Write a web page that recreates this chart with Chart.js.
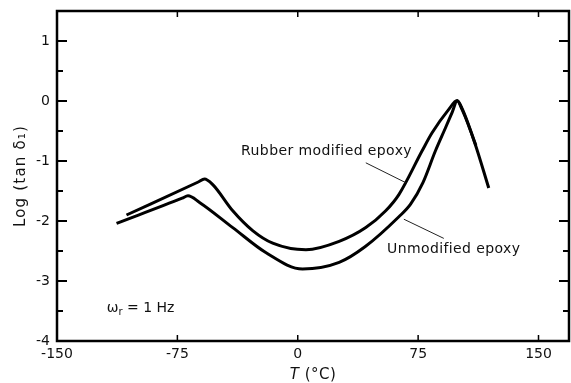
<!DOCTYPE html>
<html><head><meta charset="utf-8">
<script src="https://cdn.jsdelivr.net/npm/chart.js@4"></script>
<style>html,body{margin:0;padding:0;background:#fff}#wrap{width:571px;height:383px;position:relative}</style>
</head><body><div id="wrap"><canvas id="c"></canvas></div>
<script>
// Rubber modified epoxy (upper curve)
const rubberT   = [-106.7, -62.0, -58.1, -53.1, -40.5, -28.1, -15.6, 5.1, 25.8, 42.4, 54.8, 63.0, 77.5, 83.7, 94.1, 99.3, 102.5, 111.0];
const rubberLog = [-1.90, -1.35, -1.30, -1.39, -1.83, -2.16, -2.37, -2.48, -2.34, -2.11, -1.83, -1.56, -0.83, -0.53, -0.14, 0.01, -0.13, -0.74];
// Unmodified epoxy (lower curve)
const unmodT   = [-112.9, -72.0, -68.4, -61.2, -40.5, -19.7, 3.0, 25.8, 41.9, 63.0, 70.3, 78.0, 85.8, 92.0, 96.2, 99.3, 102.5, 110.2, 119.0];
const unmodLog = [-2.04, -1.62, -1.58, -1.69, -2.11, -2.53, -2.80, -2.69, -2.43, -1.93, -1.72, -1.36, -0.83, -0.45, -0.19, 0.0, -0.15, -0.69, -1.45];
// axis ticks
const xTicks = [-150, -75, 0, 75, 150];
const yTicks = [-4, -3.5, -3, -2.5, -2, -1.5, -1, -0.5, 0, 0.5, 1, 1.5];
const yLabelled = [-4, -3, -2, -1, 0, 1];

const FONT = "'DejaVu Sans', sans-serif";
const toXY = (xs, ys) => xs.map((x, i) => ({x, y: ys[i]}));

const decor = {
  id: 'decor',
  afterDatasetsDraw(chart) {
    const {ctx, chartArea: a, scales: {x, y}} = chart;
    ctx.save();
    ctx.strokeStyle = '#000';
    // inward ticks
    ctx.lineWidth = 2;
    yTicks.forEach(v => {
      if (v <= -4 || v >= 1.5) return;
      const py = y.getPixelForValue(v);
      const len = Number.isInteger(v) ? 10 : 6;
      ctx.beginPath();
      ctx.moveTo(a.left, py); ctx.lineTo(a.left + len, py);
      ctx.moveTo(a.right, py); ctx.lineTo(a.right - len, py);
      ctx.stroke();
    });
    ctx.lineWidth = 1.5;
    xTicks.forEach(v => {
      if (v <= -150) return;
      const px = x.getPixelForValue(v);
      ctx.beginPath();
      ctx.moveTo(px, a.bottom); ctx.lineTo(px, a.bottom - 6);
      ctx.moveTo(px, a.top); ctx.lineTo(px, a.top + 6);
      ctx.stroke();
    });
    // frame
    ctx.lineWidth = 2.5;
    ctx.strokeRect(a.left, a.top, a.right - a.left, a.bottom - a.top);

    // leader lines
    ctx.lineWidth = 1;
    ctx.strokeStyle = '#222';
    ctx.beginPath();
    ctx.moveTo(x.getPixelForValue(42.4), y.getPixelForValue(-1.03));
    ctx.lineTo(x.getPixelForValue(67.2), y.getPixelForValue(-1.36));
    ctx.moveTo(x.getPixelForValue(66.1), y.getPixelForValue(-1.97));
    ctx.lineTo(x.getPixelForValue(91.0), y.getPixelForValue(-2.29));
    ctx.stroke();

    // annotations
    ctx.fillStyle = '#111';
    ctx.font = '14px ' + FONT;
    ctx.textBaseline = 'middle';
    ctx.textAlign = 'left';
    ctx.letterSpacing = '0.4px';
    ctx.fillText('Rubber modified epoxy', x.getPixelForValue(-35.3), y.getPixelForValue(-0.84));
    ctx.fillText('Unmodified epoxy', x.getPixelForValue(55.6), y.getPixelForValue(-2.48));
    ctx.letterSpacing = '0px';
    // omega_r = 1 Hz
    let wx = x.getPixelForValue(-119), wy = y.getPixelForValue(-3.45);
    ctx.fillText('ω', wx, wy);
    wx += ctx.measureText('ω').width;
    ctx.font = '10px ' + FONT;
    ctx.fillText('r', wx, wy + 4);
    wx += ctx.measureText('r').width;
    ctx.font = '14px ' + FONT;
    ctx.fillText(' = 1 Hz', wx, wy);

    // axis titles
    ctx.textAlign = 'center';
    ctx.save();
    ctx.translate(21, (a.top + a.bottom) / 2);
    ctx.rotate(-Math.PI / 2);
    ctx.font = '15px ' + FONT;
    ctx.letterSpacing = '1.2px';
    ctx.fillText('Log (tan δ₁)', 0, 0);
    ctx.restore();
    ctx.letterSpacing = '0.5px';
    const cx = (a.left + a.right) / 2, cy = 375;
    ctx.font = 'italic 15px ' + FONT;
    const tW = ctx.measureText('T').width;
    ctx.font = '15px ' + FONT;
    const rW = ctx.measureText(' (°C)').width;
    const start = cx - (tW + rW) / 2;
    ctx.textAlign = 'left';
    ctx.font = 'italic 15px ' + FONT;
    ctx.fillText('T', start, cy);
    ctx.font = '15px ' + FONT;
    ctx.fillText(' (°C)', start + tW, cy);
    ctx.restore();
  }
};

new Chart(document.getElementById('c'), {
  type: 'line',
  data: {
    datasets: [
      {label: 'Rubber modified epoxy', data: toXY(rubberT, rubberLog), borderColor: '#000', borderWidth: 3, pointRadius: 0, fill: false, cubicInterpolationMode: 'monotone'},
      {label: 'Unmodified epoxy', data: toXY(unmodT, unmodLog), borderColor: '#000', borderWidth: 3, pointRadius: 0, fill: false, cubicInterpolationMode: 'monotone'}
    ]
  },
  options: {
    responsive: true,
    maintainAspectRatio: false,
    animation: false,
    layout: {padding: {top: 11, right: 2, left: 0, bottom: 0}},
    plugins: {legend: {display: false}, tooltip: {enabled: false}},
    scales: {
      x: {
        type: 'linear', min: -150, max: 169,
        afterBuildTicks: s => { s.ticks = xTicks.map(v => ({value: v})); },
        afterFit: s => { s.height = 42; s.paddingLeft = 0; s.paddingRight = 0; },
        grid: {display: false, drawTicks: false},
        border: {display: false},
        ticks: {color: '#111', font: {family: FONT, size: 14}, padding: 5, maxRotation: 0,
                callback: v => String(v)}
      },
      y: {
        type: 'linear', min: -4, max: 1.5,
        afterBuildTicks: s => { s.ticks = yTicks.map(v => ({value: v})); },
        afterFit: s => { s.width = 57; s.paddingTop = 0; s.paddingBottom = 0; },
        grid: {display: false, drawTicks: false},
        border: {display: false},
        ticks: {color: '#111', font: {family: FONT, size: 14}, padding: 7,
                callback: v => yLabelled.includes(v) ? String(v) : ''}
      }
    }
  },
  plugins: [decor]
});
</script>
</body></html>
